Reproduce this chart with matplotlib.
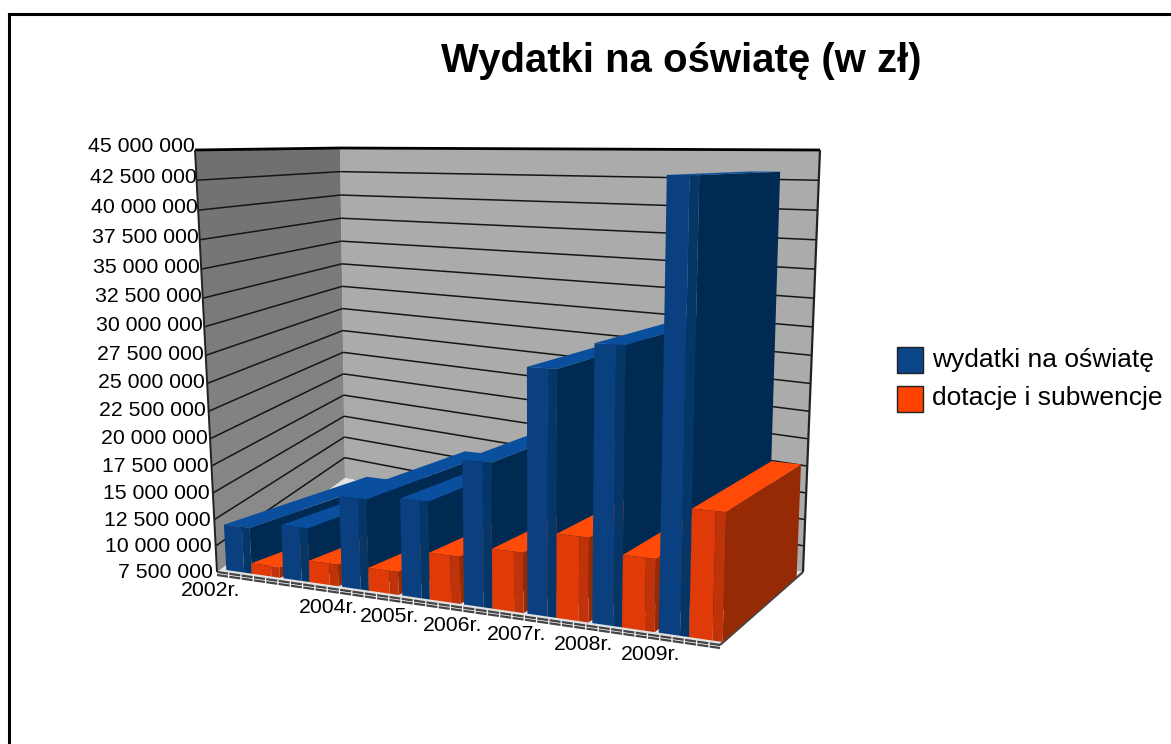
import numpy as np
import matplotlib
matplotlib.use('Agg')
import matplotlib.pyplot as plt
from matplotlib.patches import Rectangle

plt.rcParams['font.family'] = ['Liberation Sans', 'DejaVu Sans']

# ------------ Data ---------------
years = ['2002r.', '2003r.', '2004r.', '2005r.', '2006r.', '2007r.', '2008r.', '2009r.']
hidden_labels = ['2003r.']
wydatki = [11.85e6, 12.5e6, 15.8e6, 16.2e6, 20.1e6, 28.2e6, 30.4e6, 43.2e6]
dotacje = [8.5e6, 9.5e6, 9.6e6, 11.7e6, 12.75e6, 14.7e6, 13.6e6, 18.0e6]
ticks = [7.5e6 + 2.5e6 * i for i in range(16)]

V_MIN, V_MAX = 7.5e6, 45e6
N = len(years)

# ------------ Box on the picture ---------------
# the original is warped, it does not fit one camera, so blend between the 8 corners
# index: [across][depth][height]
corners = np.zeros((2, 2, 2, 2))
corners[0, 0, 0] = (217, 572)
corners[1, 0, 0] = (720, 645)
corners[1, 1, 0] = (803, 572)
corners[0, 1, 0] = (345, 478)
corners[0, 0, 1] = (195, 150)
corners[0, 1, 1] = (340, 148)
corners[1, 1, 1] = (820, 150)
corners[1, 0, 1] = (733, 150)

# the bars do not follow the floor on the left, their far ends sit lower
bar_corners = corners.copy()
bar_corners[0, 1, 0] = (380, 512)


def project(cat, value, depth, box=corners):
    u = cat / N
    u = u - 0.1 * u * (1 - u)
    h = (value - V_MIN) / (V_MAX - V_MIN)
    h = h - 0.08 * h * (1 - h)
    p = np.zeros(2)
    for i, wu in enumerate((1 - u, u)):
        for j, wd in enumerate((1 - depth, depth)):
            for k, wh in enumerate((1 - h, h)):
                p += wu * wd * wh * box[i, j, k]
    return p[0], p[1]


def face(ax, pts3d, color, z, lw=0.0, box=corners):
    pts = [project(*c, box=box) for c in pts3d]
    ax.fill([p[0] for p in pts], [p[1] for p in pts], color=color, lw=lw, zorder=z)


def line3d(ax, a, b, z, **kw):
    pa, pb = project(*a), project(*b)
    ax.plot([pa[0], pb[0]], [pa[1], pb[1]], zorder=z, solid_capstyle='butt', **kw)


def bar(ax, left, right, value, front, strip, side, top, z):
    d0, d1 = 0.04, 0.93
    mid = left + (right - left) * 0.7
    # right side, top, then the two strips of the front
    face(ax, [(right, V_MIN, d0), (right, V_MIN, d1), (right, value, d1), (right, value, d0)], side, z, box=bar_corners)
    face(ax, [(left, value, d0), (right, value, d0), (right, value, d1), (left, value, d1)], top, z, box=bar_corners)
    face(ax, [(left, V_MIN, d0), (mid, V_MIN, d0), (mid, value, d0), (left, value, d0)], front, z, box=bar_corners)
    face(ax, [(mid, V_MIN, d0), (right, V_MIN, d0), (right, value, d0), (mid, value, d0)], strip, z, box=bar_corners)


# ------------ Plot Setup ---------------
fig = plt.figure(figsize=(11.71, 7.44), dpi=100)
ax = fig.add_axes([0, 0, 1, 1])
ax.set_xlim(0, 1171)
ax.set_ylim(744, 0)
ax.axis('off')

# outer frame
ax.plot([8.5, 8.5], [744, 13.5], color='black', lw=2.2, zorder=1)
ax.plot([8.5, 1171], [13.5, 13.5], color='black', lw=2.2, zorder=1)

ax.text(681, 61, 'Wydatki na oświatę (w zł)', fontsize=28.9, fontweight='bold',
        ha='center', va='center')

# walls and floor
for i in range(len(ticks) - 1):
    shade = 0.55 - 0.11 * i / (len(ticks) - 2)
    face(ax, [(0, ticks[i], 0), (0, ticks[i], 1), (0, ticks[i + 1], 1), (0, ticks[i + 1], 0)], str(shade), 2, lw=0.3)
face(ax, [(0, V_MIN, 1), (N, V_MIN, 1), (N, V_MAX, 1), (0, V_MAX, 1)], '#ababab', 2)
face(ax, [(0, V_MIN, 0), (N, V_MIN, 0), (N, V_MIN, 1), (0, V_MIN, 1)], '#e2e2e2', 2)

# grid lines
for v in ticks[1:-1]:
    line3d(ax, (0, v, 0), (0, v, 1), 3, color='#151515', lw=1.1)
    line3d(ax, (0, v, 1), (N, v, 1), 3, color='#151515', lw=1.1)

# box outline
line3d(ax, (0, V_MAX, 0), (0, V_MAX, 1), 3, color='black', lw=2.0)
line3d(ax, (0, V_MAX, 1), (N, V_MAX, 1), 3, color='black', lw=2.0)
line3d(ax, (0, V_MIN, 0), (0, V_MAX, 0), 3, color='#222222', lw=1.4)
line3d(ax, (N, V_MIN, 1), (N, V_MAX, 1), 3, color='#222222', lw=1.6)
line3d(ax, (N, V_MIN, 0), (N, V_MIN, 1), 3, color='#444444', lw=1.6)

# floor edge, double broken line along the front
for off in (0.0, 3.0):
    pa, pb = project(0, V_MIN, 0), project(N, V_MIN, 0)
    ax.plot([pa[0], pb[0]], [pa[1] + off, pb[1] + off], color='#444444',
            lw=1.6, zorder=3, ls=(0, (5, 0.6)))

# bars, left to right so each one covers the sides of the previous one
for k in range(N):
    bar(ax, k + 0.05, k + 0.5, wydatki[k], '#0a3f80', '#053668', '#002a52', '#0a4f9e', 4 + k * 0.1)
    bar(ax, k + 0.5, k + 0.99, dotacje[k], '#e03a08', '#c03208', '#952a05', '#ff4a08', 4.05 + k * 0.1)

# value axis labels
for v in ticks:
    x, y = project(0, v, 0)
    h = (v - V_MIN) / (V_MAX - V_MIN)
    ax.text(x - 4 * (1 - h), y + 1 - 4 * h, '{:,.0f}'.format(v).replace(',', ' '),
            fontsize=15.3, ha='right', va='center', zorder=6)

# category labels
for k, name in enumerate(years):
    if name in hidden_labels:
        continue
    x, y = project(k + 0.5, V_MIN, 0)
    ax.text(x - 35, y + 14, name, fontsize=15.3, ha='center', va='center', zorder=6)

# legend
legend_items = [('wydatki na oświatę', '#0a4588', 360), ('dotacje i subwencje', '#ff4200', 398.5)]
for label, color, y in legend_items:
    ax.add_patch(Rectangle((897, y - 13), 26, 26, facecolor=color, edgecolor='#222222', lw=1.0, zorder=6))
    ax.text(932, y, label, fontsize=19, ha='left', va='center', zorder=6)

fig.savefig('out.png', dpi=100)
